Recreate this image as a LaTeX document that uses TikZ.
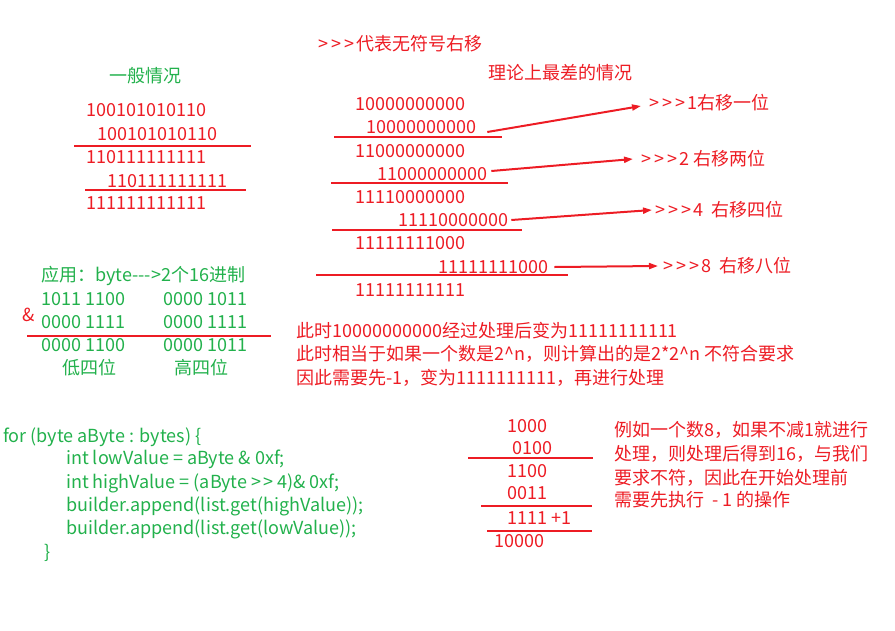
\documentclass[tikz,border=0pt]{standalone}
\usepackage{fontspec}
\setmainfont{Noto Sans CJK SC}
\usetikzlibrary{arrows.meta}
\definecolor{paintred}{HTML}{ED1C24}
\definecolor{paintgreen}{HTML}{22B14C}
\newcommand{\urs}{>\hspace{3pt}>\hspace{3pt}>\hspace{2pt}}
\begin{document}
\begin{tikzpicture}[x=1pt,y=-1pt]

	\tikzstyle{bits}=[text=paintred,anchor=west,inner sep=0pt,
		font=\fontsize{18}{22}\selectfont]
	\tikzstyle{code}=[text=paintgreen,anchor=west,inner sep=0pt,
		font=\fontsize{18}{22}\selectfont]
	\tikzstyle{rule}=[draw=paintred,line width=2pt]
	\tikzstyle{shiftarrow}=[draw=paintred,line width=2pt,
		-{Triangle[length=9pt,width=6pt]}]

	\useasboundingbox (0,0) rectangle (895,630);

	% general case
	\node[code]	(g0)	at (109,76)	{一般情况};
	\node[bits]	(g1)	at (86,110)	{100101010110};
	\node[bits]	(g2)	at (97,134)	{100101010110};
	\node[bits]	(g3)	at (86,157)	{110111111111};
	\node[bits]	(g4)	at (107,181)	{110111111111};
	\node[bits]	(g5)	at (86,203)	{111111111111};
	\coordinate (ga) at (74,146);	\coordinate (gb) at (251,146);
	\coordinate (gc) at (85,190);	\coordinate (gd) at (246,190);
	\draw[rule] (ga) -- (gb);
	\draw[rule] (gc) -- (gd);

	% worst case
	\node[bits]	(t0)	at (318,44)	{\urs 代表无符号右移};
	\node[bits]	(w0)	at (488,73)	{理论上最差的情况};
	\node[bits]	(w1)	at (355,104)	{10000000000};
	\node[bits]	(w2)	at (366,127)	{10000000000};
	\node[bits]	(w3)	at (355,151)	{11000000000};
	\node[bits]	(w4)	at (377,174)	{11000000000};
	\node[bits]	(w5)	at (355,197)	{11110000000};
	\node[bits]	(w6)	at (398,220)	{11110000000};
	\node[bits]	(w7)	at (355,243)	{11111111000};
	\node[bits]	(w8)	at (438,267)	{11111111000};
	\node[bits]	(w9)	at (355,290)	{11111111111};
	\coordinate (wa) at (334,137);	\coordinate (wb) at (502,137);
	\coordinate (wc) at (331,183);	\coordinate (wd) at (508,183);
	\coordinate (we) at (332,230);	\coordinate (wf) at (522,230);
	\coordinate (wg) at (316,275);	\coordinate (wh) at (568,275);
	\draw[rule] (wa) -- (wb);
	\draw[rule] (wc) -- (wd);
	\draw[rule] (we) -- (wf);
	\draw[rule] (wg) -- (wh);

	\node[bits]	(s1)	at (649,103)	{\urs 1右移一位};
	\node[bits]	(s2)	at (641,159)	{\urs 2 右移两位};
	\node[bits]	(s3)	at (655,210)	{\urs 4\ \ 右移四位};
	\node[bits]	(s4)	at (663,266)	{\urs 8\ \ 右移八位};
	\draw[shiftarrow] ([xshift=11pt,yshift=-5pt]w2.east) -- ([xshift=-8pt,yshift=-3pt]s1.west);
	\draw[shiftarrow] ([xshift=4pt,yshift=3pt]w4.east) -- ([xshift=-8pt]s2.west);
	\draw[shiftarrow] ([xshift=3pt]w6.east) -- ([xshift=-3pt]s3.west);
	\draw[shiftarrow] ([xshift=6pt]w8.east) -- ([xshift=-5pt]s4.west);

	% byte to hex
	\node[code]	(h0)	at (41,276)	{应用：byte-{}-{}->2个16进制};
	\node[code]	(h1)	at (41,299)	{1011 1100};
	\node[code]	(h2)	at (163,299)	{0000 1011};
	\node[bits]	(h3)	at (22,315)	{\&};
	\node[code]	(h4)	at (41,322)	{0000 1111};
	\node[code]	(h5)	at (163,322)	{0000 1111};
	\node[code]	(h6)	at (41,345)	{0000 1100};
	\node[code]	(h7)	at (163,345)	{0000 1011};
	\node[code]	(h8)	at (62,368)	{低四位};
	\node[code]	(h9)	at (174,368)	{高四位};
	\coordinate (ha) at (27,336);	\coordinate (hb) at (271,336);
	\draw[rule] (ha) -- (hb);

	\node[bits]	(n1)	at (296,331)	{此时10000000000经过处理后变为11111111111};
	\node[bits]	(n2)	at (296,354)	{此时相当于如果一个数是2\textasciicircum n，则计算出的是2*2\textasciicircum n 不符合要求};
	\node[bits]	(n3)	at (296,378)	{因此需要先-1，变为1111111111，再进行处理};

	% code
	\node[code]	(c1)	at (3,437)	{for (byte aByte : bytes) \{};
	\node[code]	(c2)	at (66,459)	{int lowValue = aByte \& 0xf;};
	\node[code]	(c3)	at (66,483)	{int highValue = (aByte >\hspace{2pt}> 4)\& 0xf;};
	\node[code]	(c4)	at (66,506)	{builder.append(list.get(highValue));};
	\node[code]	(c5)	at (66,529)	{builder.append(list.get(lowValue));};
	\node[code]	(c6)	at (44,553)	{\}};

	% example with 8
	\node[bits]	(e1)	at (507,426)	{1000};
	\node[bits]	(e2)	at (512,448)	{0100};
	\node[bits]	(e3)	at (507,471)	{1100};
	\node[bits]	(e4)	at (507,493)	{0011};
	\node[bits]	(e5)	at (507,518)	{1111 +1};
	\node[bits]	(e6)	at (494,541)	{10000};
	\coordinate (ea) at (468,458);	\coordinate (eb) at (593,458);
	\coordinate (ec) at (481,506);	\coordinate (ed) at (592,506);
	\coordinate (ee) at (487,531);	\coordinate (ef) at (592,531);
	\draw[rule] (ea) -- (eb);
	\draw[rule] (ec) -- (ed);
	\draw[rule] (ee) -- (ef);

	\node[bits]	(x1)	at (614,430)	{例如一个数8，如果不减1就进行};
	\node[bits]	(x2)	at (614,454)	{处理，则处理后得到16，与我们};
	\node[bits]	(x3)	at (614,478)	{要求不符，因此在开始处理前};
	\node[bits]	(x4)	at (614,500)	{需要先执行\ \ - 1 的操作};

\end{tikzpicture}
\end{document}
